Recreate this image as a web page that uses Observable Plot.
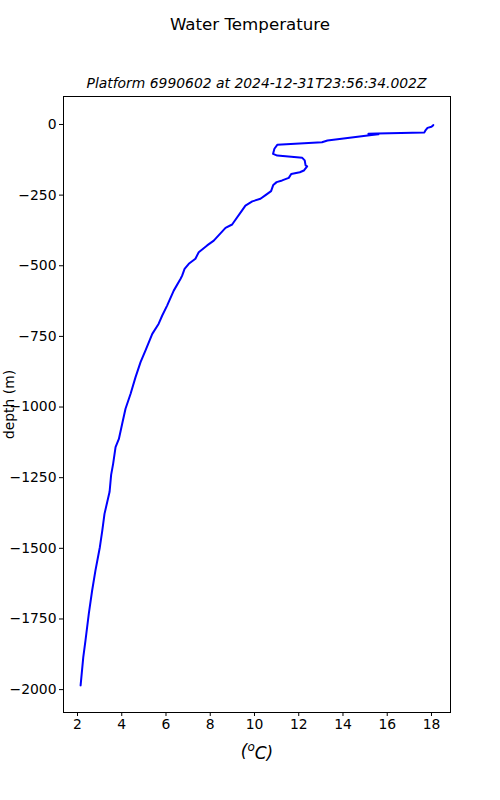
<!DOCTYPE html>
<html>
<head>
<meta charset="utf-8">
<script src="https://cdn.jsdelivr.net/npm/d3@7"></script>
<script src="https://cdn.jsdelivr.net/npm/@observablehq/plot@0.6"></script>
<style>
  body { margin: 0; background: #fff; font-family: "DejaVu Sans", sans-serif; }
  #wrap { position: relative; width: 500px; height: 800px; }
  #title { position: absolute; left: 0; width: 500px; top: 15px; text-align: center; font-size: 16.67px; color: #000; }
  #subtitle { position: absolute; left: 63px; width: 387px; top: 75px; text-align: center; font-size: 13.9px; font-style: italic; color: #000; white-space: nowrap; }
  #chart { position: absolute; left: 0; top: 90px; }
</style>
</head>
<body>
<div id="wrap">
  <div id="title">Water Temperature</div>
  <div id="subtitle">Platform 6990602 at 2024-12-31T23:56:34.002Z</div>
  <div id="chart"></div>
</div>
<script>
const temperature = [18.08, 18.05, 18.0, 17.82, 17.72, 17.68, 15.55, 15.15, 15.6, 15.3, 13.3, 13.05, 11.03, 10.9, 10.84, 11.03, 12.16, 12.27, 12.31, 12.38, 12.23, 12.05, 11.66, 11.55, 11.25, 11.0, 10.85, 10.75, 10.5, 10.27, 9.9, 9.59, 9.44, 9.06, 8.99, 8.69, 8.16, 7.86, 7.48, 7.33, 7.03, 6.84, 6.73, 6.66, 6.35, 6.05, 5.83, 5.67, 5.38, 5.07, 4.85, 4.62, 4.40, 4.17, 4.02, 3.87, 3.72, 3.61, 3.52, 3.45, 3.22, 3.12, 3.01, 2.81, 2.66, 2.51, 2.36, 2.26, 2.14];
const depth = [-2, -5, -8, -12, -22, -28, -32, -33, -35, -37, -57, -63, -72, -86, -104, -110, -118, -127, -145, -148, -163, -169, -175, -189, -198, -204, -214, -236, -250, -263, -272, -287, -304, -346, -354, -366, -411, -428, -452, -475, -493, -511, -535, -546, -588, -641, -676, -705, -741, -800, -841, -895, -953, -1006, -1059, -1113, -1142, -1201, -1240, -1300, -1378, -1437, -1496, -1579, -1650, -1732, -1827, -1886, -1985];
const xTicks = [2, 4, 6, 8, 10, 12, 14, 16, 18];
const yTicks = [0, -250, -500, -750, -1000, -1250, -1500, -1750, -2000];

const rows = temperature.map((t, i) => ({t, d: depth[i]}));

const chart = Plot.plot({
  width: 500,
  height: 710,
  marginTop: 6,
  marginBottom: 88,
  marginLeft: 63,
  marginRight: 50,
  style: {fontFamily: "DejaVu Sans, sans-serif", fontSize: "13.9px", color: "#000", background: "#fff"},
  x: {domain: [1.367, 18.86]},
  y: {domain: [-2081, 99]},
  marks: [
    Plot.line(rows, {x: "t", y: "d", stroke: "#0000ff", strokeWidth: 2, curve: "linear"}),
    Plot.frame({stroke: "#000", strokeWidth: 1}),
    Plot.axisX({ticks: xTicks, tickSize: 4, tickPadding: 3, tickFormat: d3.format("d"), label: "(°C)", labelAnchor: "center", labelArrow: "none", labelOffset: 44, fontSize: 13.9}),
    Plot.axisY({ticks: yTicks, tickSize: 4, tickPadding: 3, tickFormat: d3.format("d"), label: "depth (m)", labelAnchor: "center", labelArrow: "none", labelOffset: 59, fontSize: 13.9})
  ]
});
document.getElementById("chart").appendChild(chart);
// x-axis label like matplotlib mathtext $(^oC)$: italic with superscript o
chart.querySelectorAll("g[aria-label='x-axis label'] text").forEach(t => {
  t.style.fontStyle = "italic";
  t.style.fontSize = "17px";
  const ns = "http://www.w3.org/2000/svg";
  t.textContent = "(";
  const sup = document.createElementNS(ns, "tspan");
  sup.setAttribute("dy", "-0.45em");
  sup.setAttribute("font-size", "12px");
  sup.textContent = "o";
  const rest = document.createElementNS(ns, "tspan");
  rest.setAttribute("dy", "0.45em");
  rest.textContent = "C)";
  t.appendChild(sup);
  t.appendChild(rest);
});
</script>
</body>
</html>
